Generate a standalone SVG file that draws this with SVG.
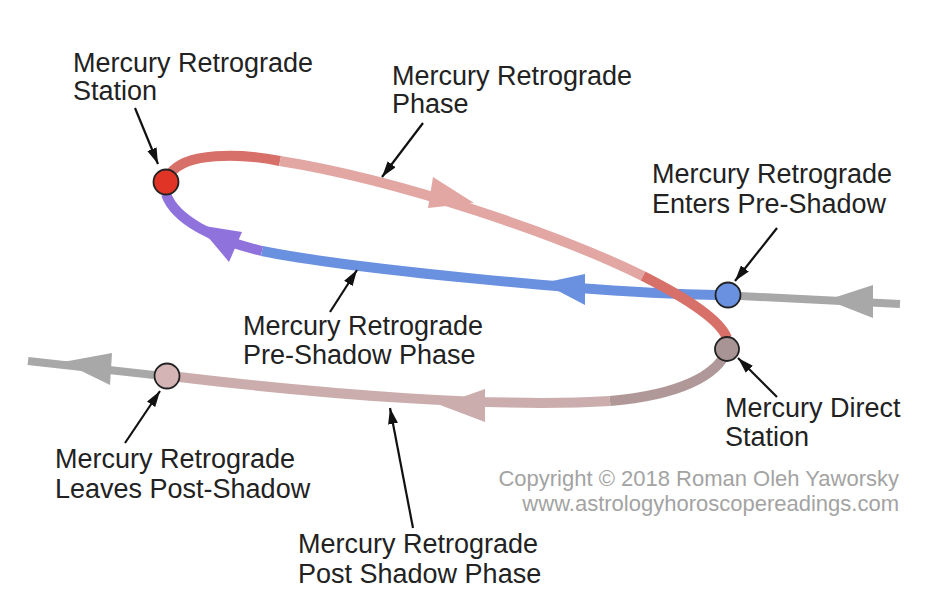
<svg xmlns="http://www.w3.org/2000/svg" width="946" height="606" viewBox="0 0 946 606">
<style>
  .lbl { font-family: "Liberation Sans", Arial, sans-serif; font-size: 27px; fill: #222; }
  .copy { font-family: "Liberation Sans", Arial, sans-serif; font-size: 22px; fill: #a3a3a3; text-anchor: end; }
  .band { fill: none; stroke-width: 10; }
  .ptr { stroke: #111; stroke-width: 2.2; fill: none; marker-end: url(#ah); }
  .node { stroke: #222; stroke-width: 1.8; }
</style>
<defs>
  <marker id="ah" viewBox="0 0 16 10" refX="16" refY="5" markerWidth="16" markerHeight="10" markerUnits="userSpaceOnUse" orient="auto">
    <path d="M0,0 L16,5 L0,10 z" fill="#111"/>
  </marker>
</defs>
<rect width="946" height="606" fill="#fff"/>
<g id="connectors">
  <path d="M900,304 L740,296" stroke="#a8a8a8" stroke-width="8" fill="none"/>
  <polygon points="827,300 873,285 873,318" fill="#a8a8a8"/>
  <path class="band" d="M716,295 C600,294 340,267 262,251" stroke="#6a90e0"/>
  <polygon points="543,283 585,274 585,305" fill="#6a90e0"/>
  <path class="band" d="M262,251 C215,240 175,220 166,194" stroke="#9072dc"/>
  <polygon points="198,225 242,232 229,262" fill="#9072dc"/>
  <path class="band" d="M170,174 C185,152 240,153 280,161" stroke="#d8706a"/>
  <path class="band" d="M280,161 C400,180 560,235 643,276" stroke="#e2a6a3"/>
  <path class="band" d="M643,276 C690,300 720,320 727,338" stroke="#d8706a"/>
  <polygon points="474,203 433,177 428,208" fill="#e2a6a3"/>
  <path class="band" d="M727,350 C718,375 680,395 610,401" stroke="#b09898"/>
  <path class="band" d="M610,401 C500,408 330,395 179,377" stroke="#cbadad"/>
  <polygon points="440,405 485,389 485,422" fill="#cbadad"/>
  <path d="M154,375 L28,361" stroke="#a8a8a8" stroke-width="8" fill="none"/>
  <polygon points="63,362 112,353 110,385" fill="#a8a8a8"/>
  <line class="ptr" x1="135" y1="108" x2="158" y2="164"/>
  <line class="ptr" x1="423" y1="123" x2="382" y2="177"/>
  <line class="ptr" x1="777" y1="228" x2="735" y2="281"/>
  <line class="ptr" x1="330" y1="312" x2="357" y2="270"/>
  <line class="ptr" x1="777" y1="397" x2="738" y2="358"/>
  <line class="ptr" x1="125" y1="443" x2="160" y2="391"/>
  <line class="ptr" x1="413" y1="528" x2="390" y2="408"/>
</g>
<g id="node-station"><circle class="node" cx="166" cy="182" r="12.5" fill="#e03526"/></g>
<g id="node-enters"><circle class="node" cx="728" cy="295" r="12.5" fill="#6a90e0"/></g>
<g id="node-direct"><circle class="node" cx="727" cy="349" r="12" fill="#a89494"/></g>
<g id="node-leaves"><circle class="node" cx="167" cy="376" r="12.5" fill="#d4b4b4"/></g>
<g id="label-station"><text class="lbl" x="73" y="72">Mercury Retrograde</text><text class="lbl" x="73" y="100">Station</text></g>
<g id="label-phase"><text class="lbl" x="392" y="85">Mercury Retrograde</text><text class="lbl" x="392" y="113">Phase</text></g>
<g id="label-enters"><text class="lbl" x="652" y="183">Mercury Retrograde</text><text class="lbl" x="652" y="213">Enters Pre-Shadow</text></g>
<g id="label-preshadow"><text class="lbl" x="243" y="335">Mercury Retrograde</text><text class="lbl" x="243" y="364">Pre-Shadow Phase</text></g>
<g id="label-direct"><text class="lbl" x="725" y="417">Mercury Direct</text><text class="lbl" x="725" y="446">Station</text></g>
<g id="label-leaves"><text class="lbl" x="55" y="468">Mercury Retrograde</text><text class="lbl" x="55" y="498">Leaves Post-Shadow</text></g>
<g id="label-postshadow"><text class="lbl" x="298" y="553">Mercury Retrograde</text><text class="lbl" x="298" y="583">Post Shadow Phase</text></g>
<g id="copyright"><text class="copy" x="899" y="486">Copyright © 2018 Roman Oleh Yaworsky</text><text class="copy" x="899" y="511">www.astrologyhoroscopereadings.com</text></g>
</svg>
